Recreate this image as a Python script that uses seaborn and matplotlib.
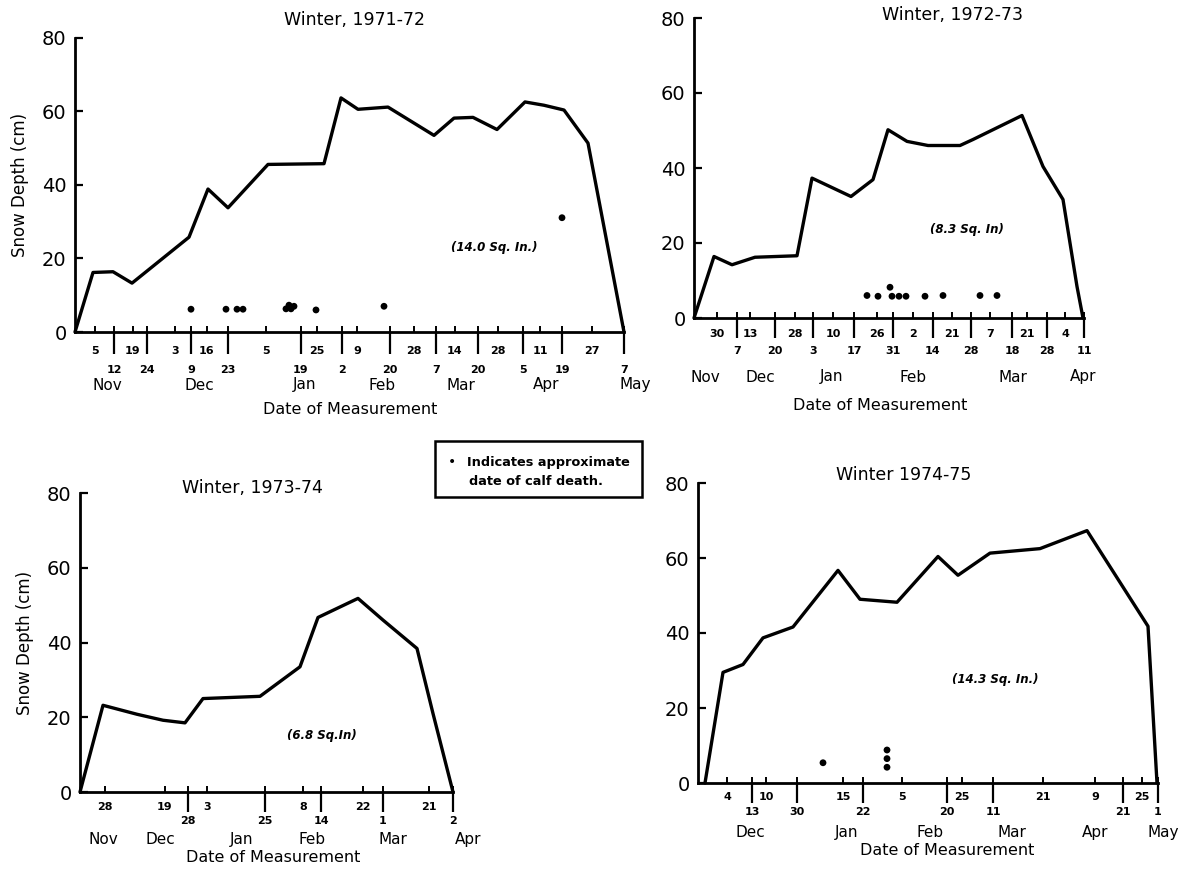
import matplotlib
matplotlib.use("Agg")
import matplotlib.pyplot as plt
from matplotlib.patches import Rectangle
import seaborn as sns

# ---------------- data (x = position along the hand-drawn date axis) ----------------
# Winter 1971-72
p1_line_x = [0, 18, 38, 57, 114, 133, 153, 193, 249, 266, 283, 313, 359, 379, 398, 422, 450, 469, 489, 513, 549]
p1_line_y = [0, 16.2, 16.4, 13.3, 25.8, 38.9, 33.8, 45.6, 45.8, 63.7, 60.6, 61.2, 53.5, 58.2, 58.4, 55.1, 62.6, 61.7, 60.4, 51.4, 0]
p1_dot_x = [116, 151, 162, 168, 211, 214, 216, 219, 241, 309, 487]
p1_dot_y = [6.2, 6.2, 6.2, 6.2, 6.3, 7.3, 6.3, 7.0, 6.0, 7.0, 31.1]
p1_short_x = [20, 58, 100, 132, 191, 242, 282, 339, 380, 423, 465, 517]
p1_short_lab = ["5", "19", "3", "16", "5", "25", "9", "28", "14", "28", "11", "27"]
p1_long_x = [39, 72, 116, 153, 226, 267, 315, 361, 403, 448, 487, 549]
p1_long_lab = ["12", "24", "9", "23", "19", "2", "20", "7", "20", "5", "19", "7"]
p1_month_x = [32, 124, 230, 307, 386, 471, 560]
p1_months = ["Nov", "Dec", "Jan", "Feb", "Mar", "Apr", "May"]
p1_title = "Winter, 1971-72"
p1_note = "(14.0 Sq. In.)"

# Winter 1972-73
p2_line_x = [0, 20, 38, 61, 103, 118, 157, 179, 194, 213, 234, 266, 279, 328, 349, 369, 383, 389]
p2_line_y = [0, 16.4, 14.2, 16.2, 16.6, 37.3, 32.4, 36.9, 50.2, 47.1, 46.0, 46.0, 47.6, 54.0, 40.4, 31.6, 8.4, 0]
p2_dot_x = [173, 184, 196, 198, 205, 212, 231, 249, 286, 303]
p2_dot_y = [6.0, 5.8, 8.2, 5.8, 5.8, 5.8, 5.8, 6.0, 6.0, 6.0]
p2_short_x = [23, 56, 101, 139, 183, 219, 258, 296, 333, 371]
p2_short_lab = ["30", "13", "28", "10", "26", "2", "21", "7", "21", "4"]
p2_long_x = [43, 81, 119, 160, 199, 239, 277, 318, 353, 390]
p2_long_lab = ["7", "20", "3", "17", "31", "14", "28", "18", "28", "11"]
p2_month_x = [11, 66, 138, 219, 319, 389]
p2_months = ["Nov", "Dec", "Jan", "Feb", "Mar", "Apr"]
p2_title = "Winter, 1972-73"
p2_note = "(8.3 Sq. In)"

# Winter 1973-74
p3_line_x = [0, 23, 57, 83, 105, 123, 180, 220, 238, 278, 303, 337, 353, 373]
p3_line_y = [0, 23.2, 20.8, 19.2, 18.5, 25.0, 25.6, 33.5, 46.7, 51.8, 46.0, 38.4, 21.0, 0]
p3_short_x = [25, 85, 127, 223, 283, 349]
p3_short_lab = ["28", "19", "3", "8", "22", "21"]
p3_long_x = [108, 185, 241, 303, 373]
p3_long_lab = ["28", "25", "14", "1", "2"]
p3_month_x = [23, 80, 162, 232, 313, 388]
p3_months = ["Nov", "Dec", "Jan", "Feb", "Mar", "Apr"]
p3_title = "Winter, 1973-74"
p3_note = "(6.8 Sq.In)"

# Winter 1974-75
p4_line_x = [7, 25, 45, 65, 95, 140, 162, 199, 240, 260, 292, 342, 389, 450, 459]
p4_line_y = [0, 29.5, 31.6, 38.7, 41.6, 56.7, 49.0, 48.2, 60.4, 55.4, 61.3, 62.5, 67.3, 41.8, 0]
p4_dot_x = [125, 189, 189, 189]
p4_dot_y = [5.4, 8.8, 6.5, 4.2]
p4_short_x = [29, 68, 145, 204, 264, 345, 397, 444]
p4_short_lab = ["4", "10", "15", "5", "25", "21", "9", "25"]
p4_long_x = [54, 99, 165, 249, 295, 425, 460]
p4_long_lab = ["13", "30", "22", "20", "11", "21", "1"]
p4_month_x = [52, 149, 232, 314, 397, 465]
p4_months = ["Dec", "Jan", "Feb", "Mar", "Apr", "May"]
p4_title = "Winter 1974-75"
p4_note = "(14.3 Sq. In.)"

y_ticks = [0, 20, 40, 60, 80]
legend_line1 = "Indicates approximate"
legend_line2 = "date of calf death."

# ---------------- style ----------------
sns.set_style("ticks")
plt.rcParams["font.family"] = ["DejaVu Sans"]
plt.rcParams.update({"text.color": "black", "axes.labelcolor": "black",
                     "xtick.color": "black", "ytick.color": "black",
                     "axes.edgecolor": "black"})
W, H = 1191, 880
PT = 0.72  # points per pixel at 100 dpi
fig = plt.figure(figsize=(W / 100, H / 100), dpi=100)


def px_rect(x0, x1, ytop, ybot):
    return [x0 / W, 1 - ybot / H, (x1 - x0) / W, (ybot - ytop) / H]


def panel(rect, xmax, lx, ly, dx, dy, sx, slab, lgx, lglab, mx, months,
          title, title_px, note, note_xy, offs, long_len, ylabel_px=None, xlabel_cx=None):
    ax = fig.add_axes(px_rect(*rect))
    sns.lineplot(x=lx, y=ly, ax=ax, color="black", lw=2.4, sort=False,
                 estimator=None, clip_on=False)
    if dx:
        sns.scatterplot(x=dx, y=dy, ax=ax, color="black", s=24, edgecolor="none",
                        clip_on=False)
    ax.set_xlim(0, xmax)
    ax.set_ylim(0, 80)
    for s in ("top", "right"):
        ax.spines[s].set_visible(False)
    for s in ("left", "bottom"):
        ax.spines[s].set_linewidth(2.0)
        ax.spines[s].set_color("black")
    ax.set_yticks(y_ticks)
    ax.set_yticklabels([str(v) for v in y_ticks], fontsize=14, color="black")
    ax.tick_params(axis="y", direction="in", length=6, width=1.6, pad=6, colors="black")
    # long ticks (out) and short ticks (in)
    ax.xaxis.remove_overlapping_locs = False
    ax.set_xticks(lgx)
    ax.set_xticklabels([""] * len(lgx))
    ax.set_xticks(sorted(list(sx) + list(lgx)), minor=True)
    ax.tick_params(axis="x", which="major", direction="out", length=long_len * PT, width=1.6,
                   colors="black")
    ax.tick_params(axis="x", which="minor", direction="in", length=6 * PT, width=1.4,
                   colors="black")
    up, low, mon, xl = offs
    tr = ax.get_xaxis_transform()
    for x, t in zip(sx, slab):
        ax.annotate(t, xy=(x, 0), xycoords=tr, xytext=(0, -up * PT), textcoords="offset points",
                    ha="center", va="center", fontsize=8, fontweight="bold", color="black",
                    annotation_clip=False)
    for x, t in zip(lgx, lglab):
        ax.annotate(t, xy=(x, 0), xycoords=tr, xytext=(0, -low * PT), textcoords="offset points",
                    ha="center", va="center", fontsize=8, fontweight="bold", color="black",
                    annotation_clip=False)
    for x, t in zip(mx, months):
        ax.annotate(t, xy=(x, 0), xycoords=tr, xytext=(0, -mon * PT), textcoords="offset points",
                    ha="center", va="center", fontsize=11, color="black", annotation_clip=False)
    ax.set_xlabel("")
    ax.set_ylabel("")
    x0 = rect[0]
    ax.annotate("Date of Measurement", xy=((xlabel_cx - x0) / (rect[1] - x0), 0),
                xycoords="axes fraction", xytext=(0, -xl * PT), textcoords="offset points",
                ha="center", va="center", fontsize=11.5, color="black", annotation_clip=False)
    if ylabel_px is not None:
        ax.annotate("Snow Depth (cm)", xy=(0, 0.5), xycoords="axes fraction",
                    xytext=(-(x0 - ylabel_px) * PT, 0), textcoords="offset points",
                    rotation=90, ha="center", va="center", fontsize=12, color="black",
                    annotation_clip=False)
    tx, ty = title_px
    fig.text(tx / W, 1 - ty / H, title, ha="center", va="center", fontsize=12.5, color="black")
    ax.text(note_xy[0], note_xy[1], note, ha="center", va="center", fontsize=8.5,
            fontweight="bold", fontstyle="italic", color="black")
    return ax


panel((75, 624, 38, 332), 549, p1_line_x, p1_line_y, p1_dot_x, p1_dot_y,
      p1_short_x, p1_short_lab, p1_long_x, p1_long_lab, p1_month_x, p1_months,
      p1_title, (355, 20), p1_note, (419, 23), (19, 38, 53, 78), 22,
      ylabel_px=20, xlabel_cx=350)
panel((694, 1084, 18, 318), 390, p2_line_x, p2_line_y, p2_dot_x, p2_dot_y,
      p2_short_x, p2_short_lab, p2_long_x, p2_long_lab, p2_month_x, p2_months,
      p2_title, (953, 15), p2_note, (273, 23.5), (16, 33, 59, 87), 20,
      ylabel_px=None, xlabel_cx=880)
panel((80, 453, 493, 792), 373, p3_line_x, p3_line_y, None, None,
      p3_short_x, p3_short_lab, p3_long_x, p3_long_lab, p3_month_x, p3_months,
      p3_title, (252, 488), p3_note, (242, 15.2), (15, 29, 47, 65), 20,
      ylabel_px=25, xlabel_cx=273)
panel((698, 1158, 483, 783), 460, p4_line_x, p4_line_y, p4_dot_x, p4_dot_y,
      p4_short_x, p4_short_lab, p4_long_x, p4_long_lab, p4_month_x, p4_months,
      p4_title, (904, 475), p4_note, (297, 27.6), (14, 29, 49, 67), 20,
      ylabel_px=None, xlabel_cx=947)

# legend box
fig.patches.append(Rectangle((435 / W, 1 - 497 / H), (642 - 435) / W, (497 - 441) / H,
                             transform=fig.transFigure, fill=False, ec="black", lw=1.8))
fig.text(452 / W, 1 - 462 / H, "\u2022", ha="center", va="center", fontsize=10, color="black")
fig.text(467 / W, 1 - 462 / H, legend_line1, ha="left", va="center", fontsize=9.3,
         fontweight="bold", color="black")
fig.text(469 / W, 1 - 481 / H, legend_line2, ha="left", va="center", fontsize=9.3,
         fontweight="bold", color="black")

fig.savefig("out.png", dpi=100, facecolor="white")
